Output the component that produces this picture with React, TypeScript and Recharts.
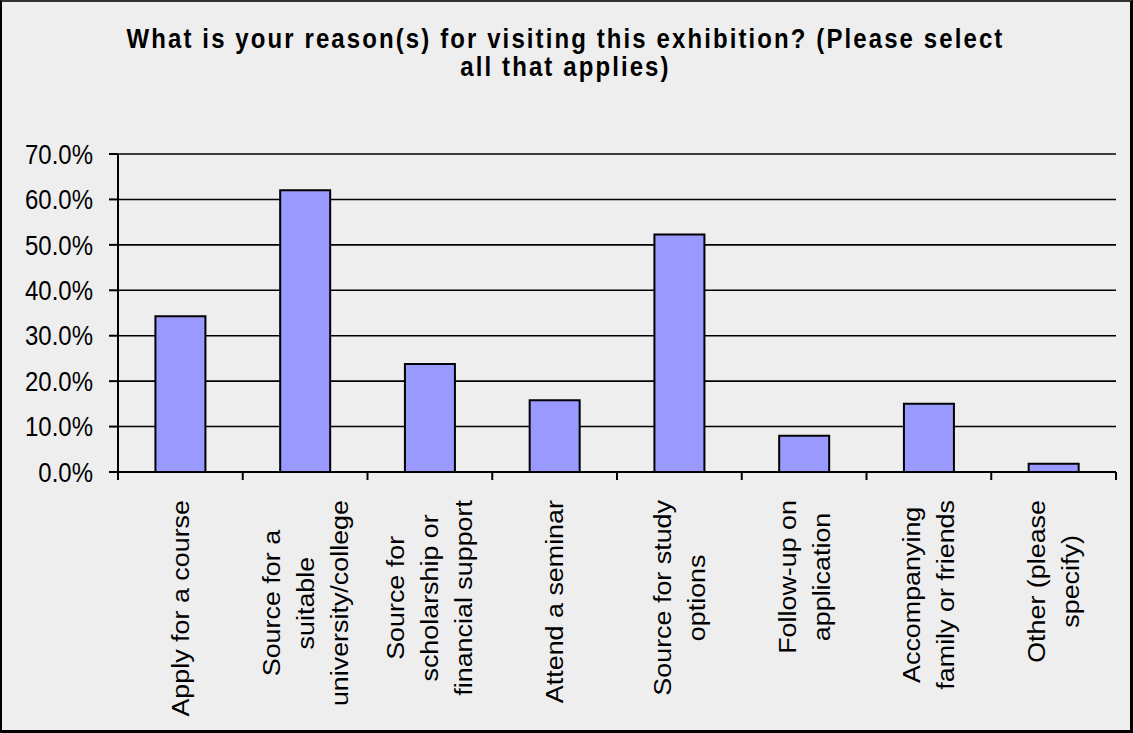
import React from 'react';
import { BarChart, Bar, XAxis, YAxis, CartesianGrid } from 'recharts';

const titleLines = [
  'What is your reason(s) for visiting this exhibition? (Please select',
  'all that applies)',
];

const categories = [
  'Apply for a course',
  'Source for a suitable university/college',
  'Source for scholarship or financial support',
  'Attend a seminar',
  'Source for study options',
  'Follow-up on application',
  'Accompanying family or friends',
  'Other (please specify)',
];

const labelLines = [
  ['Apply for a course'],
  ['Source for a', 'suitable', 'university/college'],
  ['Source for', 'scholarship or', 'financial support'],
  ['Attend a seminar'],
  ['Source for study', 'options'],
  ['Follow-up on', 'application'],
  ['Accompanying', 'family or friends'],
  ['Other (please', 'specify)'],
];

const values = [34.3, 62.0, 23.8, 15.8, 52.3, 8.0, 15.0, 1.8];

const yTicks = [0, 10, 20, 30, 40, 50, 60, 70];

const data = categories.map((c, i) => ({ name: c, value: values[i] }));

const W = 1133;
const H = 733;
const FONT = "'Liberation Sans', Arial, Helvetica, sans-serif";
const STRETCH = 1.12;
const M = { top: 154, right: 17, left: 0, bottom: 21 };
const Y_W = 118;
const X_H = 240;
const BAND = (W - Y_W - M.right) / categories.length;

let ctx: CanvasRenderingContext2D | null = null;
function measure(t: string): number {
  if (!ctx) {
    const c = document.createElement('canvas');
    ctx = c.getContext('2d');
  }
  if (!ctx) return t.length * 12;
  ctx.font = `24px ${FONT}`;
  return ctx.measureText(t).width;
}

const fmt = (v: number) => `${v.toFixed(1)}%`;

const YTick = (props: any) => {
  const { x, y, payload } = props;
  return (
    <g transform={`translate(${x},${y}) scale(1,${STRETCH})`}>
      <text x={0} y={0} dy="0.36em" textAnchor="end" fontSize={24} fontFamily={FONT} fill="#000">
        {fmt(payload.value)}
      </text>
    </g>
  );
};

const XTick = (props: any) => {
  const { x, y, payload } = props;
  const idx = categories.indexOf(payload.value);
  const lines = labelLines[idx] || [String(payload.value)];
  const half = payload && typeof payload.offset === 'number' && payload.offset > 0 ? payload.offset : BAND / 2;
  const maxW = Math.max(...lines.map(measure));
  const lineH = 34;
  const top = y + 28;
  return (
    <g>
      <line x1={x - half} x2={x - half} y1={y} y2={y + 8} stroke="#000" strokeWidth={2} />
      {idx === categories.length - 1 && (
        <line x1={x + half} x2={x + half} y1={y} y2={y + 8} stroke="#000" strokeWidth={2} />
      )}
      <g transform={`translate(${x},${top}) scale(1,${STRETCH}) rotate(-90)`}>
        {lines.map((l, i) => (
          <text
            key={i}
            x={-maxW / 2}
            y={(i - (lines.length - 1) / 2) * lineH}
            textAnchor="middle"
            dominantBaseline="central"
            fontSize={24}
            fontFamily={FONT}
            fill="#000"
          >
            {l}
          </text>
        ))}
      </g>
    </g>
  );
};

export default function App() {
  return (
    <div
      style={{
        position: 'absolute',
        left: 0,
        top: 0,
        width: W,
        height: H,
        background: '#EEEEEE',
        overflow: 'hidden',
      }}
    >
      <div style={{ position: 'absolute', left: 0, top: 0 }}>
        <BarChart width={W} height={H} data={data} margin={M} barCategoryGap="30%">
          <CartesianGrid vertical={false} stroke="#000" strokeWidth={1.6} />
          <XAxis
            dataKey="name"
            interval={0}
            height={X_H}
            tickLine={false}
            tickSize={0}
            tickMargin={0}
            axisLine={{ stroke: '#000', strokeWidth: 2 }}
            tick={<XTick />}
          />
          <YAxis
            width={Y_W}
            domain={[0, 70]}
            ticks={yTicks}
            interval={0}
            tickSize={9}
            tickMargin={16}
            tickLine={{ stroke: '#000', strokeWidth: 2 }}
            axisLine={{ stroke: '#000', strokeWidth: 2 }}
            tick={<YTick />}
          />
          <Bar dataKey="value" fill="#9999FF" stroke="#000" strokeWidth={2} isAnimationActive={false} />
        </BarChart>
      </div>
      <svg
        width={W}
        height={110}
        style={{ position: 'absolute', left: 0, top: 0, pointerEvents: 'none' }}
      >
        {titleLines.map((t, i) => (
          <g key={i} transform={`translate(${W / 2 - 1},${48 + i * 28}) scale(1,${STRETCH})`}>
            <text
              x={0}
              y={0}
              textAnchor="middle"
              fontSize={24}
              fontWeight="bold"
              letterSpacing={2.1}
              fontFamily={FONT}
              fill="#000"
            >
              {t}
            </text>
          </g>
        ))}
      </svg>
      <div
        style={{
          position: 'absolute',
          left: 0,
          top: 0,
          width: W,
          height: H,
          boxSizing: 'border-box',
          borderLeft: '2px solid #000',
          borderTop: '2px solid #333',
          borderRight: '3px solid #000',
          borderBottom: '3px solid #000',
          pointerEvents: 'none',
        }}
      />
    </div>
  );
}
